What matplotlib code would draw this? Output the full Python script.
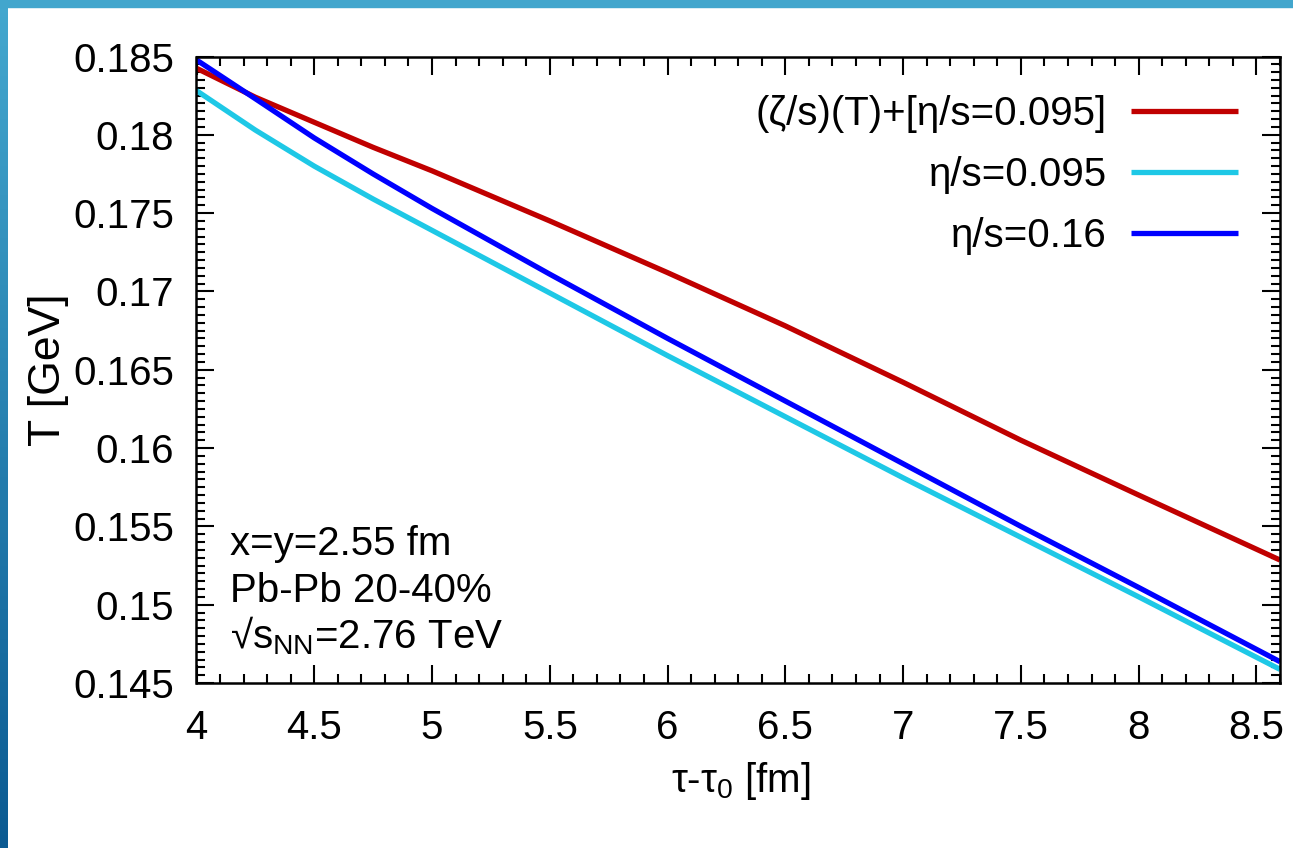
import matplotlib
matplotlib.use('Agg')
from matplotlib import pyplot as plt
from matplotlib.patches import Rectangle
from matplotlib.colors import LinearSegmentedColormap
from matplotlib.ticker import MultipleLocator
import numpy as np

plt.rcParams['font.family'] = ['Liberation Sans', 'DejaVu Sans']
plt.rcParams['mathtext.fontset'] = 'custom'
plt.rcParams['mathtext.rm'] = 'Liberation Sans'

# temperature at x=y=2.55 fm vs tau - tau0
tau = [4.0, 4.25, 4.5, 4.75, 5.0, 5.5, 6.0, 6.5, 7.0, 7.5, 8.0, 8.6]
T_bulk = [0.18425, 0.1824, 0.1808, 0.1792, 0.1777, 0.1745, 0.1712, 0.1678, 0.1642, 0.1605, 0.1570, 0.15285]
T_eta095 = [0.18282, 0.1803, 0.1780, 0.1759, 0.1739, 0.1699, 0.1659, 0.1620, 0.1581, 0.1543, 0.1505, 0.14587]
T_eta016 = [0.18478, 0.1823, 0.1798, 0.1775, 0.1753, 0.1711, 0.1670, 0.1630, 0.1590, 0.1550, 0.1511, 0.14636]

series_labels = ['(ζ/s)(T)+[η/s=0.095]', 'η/s=0.095', 'η/s=0.16']
series_colors = ['#c00000', '#1ec8e6', '#0000ff']

x_ticks = [4, 4.5, 5, 5.5, 6, 6.5, 7, 7.5, 8, 8.5]
y_ticks = [0.145, 0.15, 0.155, 0.16, 0.165, 0.17, 0.175, 0.18, 0.185]

info_lines = ['x=y=2.55 fm', 'Pb-Pb 20-40%', '√s$_{\\mathregular{NN}}$=2.76 TeV']

FS = 29

fig = plt.figure(figsize=(12.93, 8.48), dpi=100)

# slide frame: gradient strip on the left, flat strip on top
band = fig.add_axes([0, 0, 8 / 1293, 1])
grad = np.linspace(0, 1, 256).reshape(-1, 1)
cmap = LinearSegmentedColormap.from_list('frame', ['#44a8cf', '#0b5a92'])
band.imshow(grad, aspect='auto', cmap=cmap, extent=[0, 1, 0, 1])
band.axis('off')
fig.add_artist(Rectangle((0, 1 - 7 / 848), 1, 7 / 848, transform=fig.transFigure,
                         color='#42a6cd', zorder=5))

ax = fig.add_axes([196.5 / 1293, 1 - 683 / 848, (1280 - 196.5) / 1293, (683 - 56.5) / 848])

for y, lab, col in zip([T_bulk, T_eta095, T_eta016], series_labels, series_colors):
    ax.plot(tau, y, color=col, lw=3.8, label=lab, solid_capstyle='butt')

ax.set_xlim(4, 8.6)
ax.set_ylim(0.145, 0.185)
ax.set_xticks(x_ticks)
ax.set_xticklabels([f'{v:g}' for v in x_ticks])
ax.set_yticks(y_ticks)
ax.set_yticklabels([f'{v:g}' for v in y_ticks])
ax.xaxis.set_minor_locator(MultipleLocator(0.1))
ax.yaxis.set_minor_locator(MultipleLocator(0.0005))

ax.tick_params(which='both', direction='in', top=True, right=True, width=1.5, color='black')
ax.tick_params(which='major', length=13)
ax.tick_params(which='minor', length=6.5)
ax.tick_params(axis='x', which='major', labelsize=FS, pad=19)
ax.tick_params(axis='y', which='major', labelsize=FS, pad=16)
for s in ax.spines.values():
    s.set_linewidth(1.8)

ax.set_xlabel('τ-τ$_{\\mathregular{0}}$ [fm]', fontsize=FS)
ax.xaxis.set_label_coords((741 - 196.5) / 1083.5, (683 - 760) / 626.5)
ax.set_ylabel('T [GeV]', fontsize=32)
ax.yaxis.set_label_coords((69 - 196.5) / 1083.5, 0.5)

for i, line in enumerate(info_lines):
    ax.text(0.031, 0.204 - i * 0.074, line, transform=ax.transAxes, fontsize=FS,
            va='baseline', ha='left')

ax.legend(loc='upper right', bbox_to_anchor=(0.9612, 0.939), borderaxespad=0, borderpad=0,
          frameon=False, markerfirst=False, fontsize=FS, handlelength=2.65,
          handletextpad=0.6, labelspacing=0.58)

fig.savefig('out.png', dpi=100)
